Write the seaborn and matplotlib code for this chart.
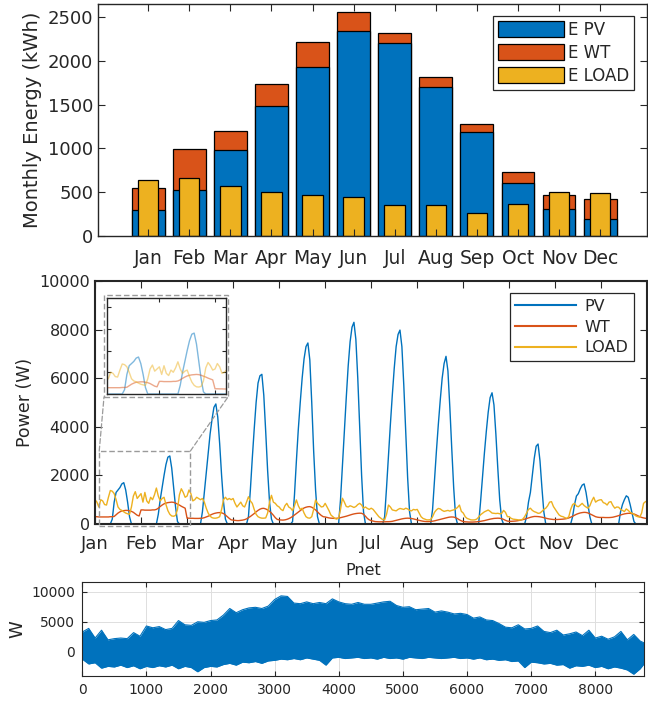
import numpy as np
import pandas as pd
import seaborn as sns
import matplotlib.pyplot as plt
from matplotlib.patches import Patch, Rectangle, ConnectionPatch
from matplotlib.lines import Line2D

# ---- data ----
months = ['Jan', 'Feb', 'Mar', 'Apr', 'May', 'Jun', 'Jul', 'Aug', 'Sep', 'Oct', 'Nov', 'Dec']
e_pv = [292, 520, 982, 1484, 1925, 2347, 2210, 1701, 1187, 608, 304, 197]
e_wt = [251, 469, 217, 247, 290, 210, 107, 110, 98, 118, 164, 229]
e_load = [635, 658, 566, 506, 472, 441, 357, 349, 258, 365, 498, 494]

# average day per month (24 values per month), W
pv_w = [
    0, 0, 0, 0, 0, 0, 0, 0, 0, 200, 900, 1300, 1400, 1500, 1650, 1700, 1400, 900, 300, 0, 0, 0, 0, 0,
    0, 0, 0, 0, 0, 0, 0, 0, 0, 400, 1000, 1500, 2000, 2450, 2750, 2800, 2300, 1500, 700, 100, 0, 0, 0, 0,
    0, 0, 0, 0, 0, 0, 0, 0, 500, 1300, 2100, 2900, 3700, 4300, 4800, 4940, 4400, 3300, 2000, 900, 200, 0, 0, 0,
    0, 0, 0, 0, 0, 0, 0, 0, 300, 1400, 2700, 3900, 5000, 5800, 6100, 6160, 5300, 3800, 2200, 900, 200, 0, 0, 0,
    0, 0, 0, 0, 0, 0, 0, 100, 1200, 2600, 3900, 5000, 6000, 6800, 7300, 7450, 6750, 5000, 3000, 1400, 300, 0, 0, 0,
    0, 0, 0, 0, 0, 0, 0, 0, 1000, 2400, 3800, 5200, 6500, 7500, 8100, 8300, 7600, 6000, 4000, 2000, 500, 0, 0, 0,
    0, 0, 0, 0, 0, 0, 0, 300, 1500, 2800, 4100, 5300, 6400, 7300, 7800, 7980, 7300, 5700, 3800, 1900, 500, 0, 0, 0,
    0, 0, 0, 0, 0, 0, 0, 0, 600, 1800, 3000, 4100, 5100, 6000, 6600, 6900, 6300, 4800, 3100, 1500, 300, 0, 0, 0,
    0, 0, 0, 0, 0, 0, 0, 0, 0, 900, 1900, 2900, 3800, 4600, 5200, 5400, 4900, 3700, 2300, 1000, 200, 0, 0, 0,
    0, 0, 0, 0, 0, 0, 0, 0, 0, 300, 900, 1300, 2000, 2700, 3200, 3290, 2600, 1500, 500, 0, 0, 0, 0, 0,
    0, 0, 0, 0, 0, 0, 0, 0, 0, 300, 800, 1150, 1250, 1450, 1600, 1650, 1300, 800, 300, 0, 0, 0, 0, 0,
    0, 0, 0, 0, 0, 0, 0, 0, 0, 0, 500, 800, 1000, 1160, 1100, 800, 450, 100, 0, 0, 0, 0, 0, 0,
]
wt_w = [
    300, 300, 290, 290, 290, 290, 290, 290, 300, 300, 310, 380, 450, 500, 540, 550, 560, 560, 540, 520, 480, 420, 360, 330,
    580, 580, 570, 570, 570, 570, 580, 580, 600, 650, 720, 780, 830, 860, 880, 890, 900, 890, 860, 820, 780, 730, 690, 650,
    240, 240, 235, 235, 230, 230, 230, 235, 240, 260, 290, 320, 360, 400, 430, 450, 465, 470, 460, 430, 370, 300, 230, 170,
    160, 150, 140, 140, 150, 160, 180, 210, 260, 310, 370, 430, 500, 560, 610, 640, 645, 620, 580, 520, 450, 360, 260, 190,
    170, 165, 160, 170, 190, 220, 260, 310, 370, 430, 490, 550, 610, 660, 690, 710, 715, 690, 640, 580, 500, 420, 350, 300,
    290, 270, 250, 240, 235, 230, 235, 245, 260, 280, 300, 320, 345, 370, 395, 415, 430, 440, 445, 440, 400, 320, 230, 170,
    140, 120, 100, 95, 90, 90, 90, 90, 95, 95, 100, 110, 130, 150, 170, 190, 210, 225, 235, 240, 235, 225, 210, 190,
    170, 150, 130, 115, 105, 100, 100, 105, 115, 130, 150, 170, 190, 210, 230, 250, 270, 285, 290, 285, 260, 220, 170, 130,
    100, 90, 85, 80, 80, 80, 85, 90, 100, 110, 125, 140, 160, 180, 200, 215, 230, 235, 240, 235, 220, 190, 150, 120,
    110, 110, 115, 120, 130, 145, 160, 180, 200, 225, 250, 275, 295, 310, 310, 305, 295, 280, 260, 240, 220, 205, 195, 185,
    185, 185, 190, 195, 200, 210, 225, 250, 280, 320, 360, 400, 430, 455, 470, 480, 475, 455, 420, 380, 340, 300, 280, 270,
    270, 270, 265, 265, 265, 270, 280, 300, 320, 345, 370, 395, 415, 430, 440, 440, 430, 410, 380, 340, 300, 270, 250, 235,
]
load_w = [
    1000, 900, 700, 1000, 950, 800, 780, 1100, 1380, 1350, 1250, 1000, 700, 600, 560, 500, 450, 420, 400, 700, 1150, 1330, 1050, 1150,
    1250, 900, 1300, 950, 850, 1100, 1000, 1200, 1480, 1150, 950, 1050, 1100, 800, 550, 400, 330, 320, 350, 600, 1200, 1450, 1300, 1100,
    1150, 1400, 1250, 950, 1000, 1100, 1050, 1000, 1050, 900, 650, 450, 320, 260, 240, 240, 260, 300, 600, 1000, 1100, 1000, 1050, 1000,
    1050, 850, 700, 800, 900, 750, 700, 900, 1120, 950, 850, 600, 400, 300, 260, 240, 240, 250, 450, 900, 1180, 900, 850, 750,
    700, 600, 550, 750, 850, 700, 650, 550, 750, 990, 750, 600, 650, 450, 300, 250, 240, 300, 600, 990, 850, 780, 700, 720,
    850, 700, 550, 370, 300, 235, 200, 250, 600, 1060, 900, 720, 700, 750, 720, 680, 720, 800, 850, 780, 650, 700, 640, 600,
    650, 600, 500, 400, 300, 240, 180, 170, 400, 780, 700, 580, 560, 540, 600, 640, 620, 600, 650, 620, 560, 540, 600, 580,
    600, 450, 300, 230, 200, 170, 170, 180, 300, 480, 580, 640, 620, 560, 520, 540, 560, 530, 560, 580, 620, 680, 780, 520,
    450, 300, 230, 200, 170, 165, 170, 200, 280, 380, 440, 500, 540, 575, 520, 450, 440, 430, 440, 420, 430, 560, 480, 300,
    300, 230, 200, 190, 180, 165, 165, 200, 300, 450, 600, 650, 560, 510, 480, 440, 450, 520, 600, 650, 750, 900, 920, 720,
    600, 480, 370, 320, 300, 260, 235, 300, 600, 800, 850, 740, 710, 780, 850, 760, 700, 650, 750, 950, 1100, 900, 960, 990,
    1000, 880, 850, 780, 900, 920, 760, 650, 700, 690, 600, 560, 510, 620, 560, 480, 440, 400, 330, 300, 280, 450, 850, 920,
]

# Pnet hourly over the year: upper / lower envelope read every 100 h
pnet_hours = list(range(0, 8701, 100)) + [8760]
pnet_upper = [3300, 3900, 2300, 3600, 2000, 2200, 2300, 2200, 3200, 2600,
              4300, 4000, 4200, 3700, 3900, 5200, 4500, 4400, 5000, 4900,
              5200, 5300, 6100, 7200, 6500, 7000, 7300, 7400, 7200, 7600,
              8700, 9300, 9200, 8100, 8000, 8300, 8000, 8200, 8000, 8800,
              8300, 8000, 7900, 8200, 7900, 7900, 8100, 8300, 8400, 7700,
              7400, 7500, 7000, 7100, 7200, 6600, 6800, 6600, 6300, 6400,
              6200, 5600, 5800, 5300, 5200, 4700, 4100, 4000, 4500, 3800,
              3900, 4300, 3400, 3200, 3600, 2800, 3000, 3300, 2700, 3600,
              2300, 2600, 2100, 2500, 3400, 2000, 2900, 1800, 1500]
pnet_lower = [-1200, -2000, -1800, -2700, -2400, -2500, -2200, -2600, -2300, -2800,
              -2400, -2600, -2300, -2500, -2200, -2800, -2400, -2600, -3300, -2600,
              -2400, -2500, -2100, -1900, -2200, -1700, -1800, -1600, -1900, -1500,
              -1400, -1200, -1300, -1100, -1300, -1000, -1200, -1400, -2200, -1000,
              -900, -1100, -1000, -900, -1100, -1000, -1200, -900, -1100, -1000,
              -1200, -900, -1000, -1100, -900, -1000, -1100, -1000, -900, -1100,
              -1000, -1200, -1000, -1300, -1200, -1400, -1300, -1600, -1500, -2600,
              -1700, -1800, -2000, -1900, -2200, -2100, -2700, -2300, -2400, -2200,
              -2600, -2400, -2800, -2500, -2700, -3000, -3700, -2800, -2000]

c_pv, c_wt, c_load = '#0072BD', '#D95319', '#EDB120'
ink = '#262626'

plt.rcParams.update({
    'font.family': 'DejaVu Sans',
    'xtick.direction': 'in', 'ytick.direction': 'in',
    'xtick.top': True, 'ytick.right': True,
    'xtick.color': ink, 'ytick.color': ink,
    'axes.edgecolor': ink, 'text.color': ink, 'axes.labelcolor': ink,
})

W, H = 648, 701
fig = plt.figure(figsize=(W / 100, H / 100), dpi=100)


def box(l, t, r, b):
    return [l / W, 1 - b / H, (r - l) / W, (b - t) / H]


# ---- top: monthly energy ----
ax1 = fig.add_axes(box(98, 4, 647, 236))
total = [p + w for p, w in zip(e_pv, e_wt)]
kw = dict(edgecolor='black', linewidth=0.9, saturation=1, errorbar=None, ax=ax1)
sns.barplot(x=months, y=total, color=c_wt, width=0.8, **kw)
sns.barplot(x=months, y=e_pv, color=c_pv, width=0.8, **kw)
sns.barplot(x=months, y=e_load, color=c_load, width=0.5, **kw)
ax1.set_xlim(-1.22, 12.14)
ax1.set_ylim(0, 2650)
ax1.set_yticks(range(0, 2501, 500))
ax1.set_xticks(range(12))
ax1.set_xticklabels(months, fontsize=13.5)
ax1.tick_params(axis='y', labelsize=13, length=5)
ax1.tick_params(axis='x', length=5, pad=9)
ax1.set_ylabel('Monthly Energy (kWh)', fontsize=14)
for s in ax1.spines.values():
    s.set_linewidth(1.0)
h1 = [Patch(facecolor=c, edgecolor='black', linewidth=0.9) for c in (c_pv, c_wt, c_load)]
lg1 = ax1.legend(h1, ['E PV', 'E WT', 'E LOAD'], loc='upper right',
                 bbox_to_anchor=(0.976, 0.95), borderaxespad=0, fontsize=12,
                 handlelength=4.0, handleheight=1.05, handletextpad=0.2,
                 labelspacing=0.3, borderpad=0.3, fancybox=False, framealpha=1)
lg1.get_frame().set_edgecolor(ink)
lg1.get_frame().set_linewidth(0.9)

# ---- middle: power profiles ----
ax2 = fig.add_axes(box(95, 281, 647.4, 524))
hours = np.arange(len(pv_w))
df = pd.DataFrame({
    'hour': np.concatenate([hours, hours, hours]),
    'power': pv_w + wt_w + load_w,
    'series': ['PV'] * len(pv_w) + ['WT'] * len(wt_w) + ['LOAD'] * len(load_w),
})
pal = {'PV': c_pv, 'WT': c_wt, 'LOAD': c_load}
sns.lineplot(data=df, x='hour', y='power', hue='series', palette=pal,
             hue_order=['PV', 'WT', 'LOAD'], estimator=None, linewidth=1.0,
             legend=False, ax=ax2)
ax2.lines[0].set_clip_on(False)
ax2.set_xlim(0, 288)
ax2.set_ylim(0, 10000)
ax2.set_xticks(range(0, 288, 24))
ax2.set_xticklabels(months, fontsize=13)
ax2.set_yticks(range(0, 10001, 2000))
ax2.tick_params(axis='y', labelsize=11.5, length=5)
ax2.tick_params(axis='x', length=5, pad=8)
ax2.set_xlabel('')
ax2.set_ylabel('Power (W)', fontsize=12.5)
for s in ax2.spines.values():
    s.set_linewidth(1.5)
h2 = [Line2D([], [], color=c, lw=1.5) for c in (c_pv, c_wt, c_load)]
lg2 = ax2.legend(h2, ['PV', 'WT', 'LOAD'], loc='upper right',
                 bbox_to_anchor=(0.975, 0.949), borderaxespad=0, fontsize=11.5,
                 handlelength=3.8, handletextpad=0.5, labelspacing=0.35,
                 borderpad=0.35, fancybox=False, framealpha=1)
lg2.get_frame().set_edgecolor(ink)
lg2.get_frame().set_linewidth(0.9)

# zoom box and inset
gray = '#9a9a9a'
ax2.add_patch(Rectangle((2.2, -80), 47.5, 3080, fill=False, ec=gray, lw=1.0,
                        ls=(0, (4, 2)), clip_on=False, zorder=5))
fig.add_artist(Rectangle((104 / W, 1 - 397 / H), 124 / W, 102 / H, fill=False,
                         ec=gray, lw=1.0, ls=(0, (4, 2)), transform=fig.transFigure))
for xa, xf in ((2.2, 104), (49.7, 228)):
    fig.add_artist(ConnectionPatch(xyA=(xa, 3000), coordsA=ax2.transData,
                                   xyB=(xf / W, 1 - 397 / H), coordsB=fig.transFigure,
                                   color=gray, lw=0.9, ls=(0, (4, 2))))

ax_in = fig.add_axes(box(106.7, 298.3, 225.7, 394))
sns.lineplot(data=df[df.hour <= 54], x='hour', y='power', hue='series', palette=pal,
             hue_order=['PV', 'WT', 'LOAD'], estimator=None, linewidth=1.0,
             alpha=0.5, legend=False, ax=ax_in)
ax_in.set_xlim(1.3, 52.6)
ax_in.set_ylim(0, 4400)
ax_in.set_xticks([24, 48])
ax_in.set_yticks([1000, 2000, 3000, 4000])
ax_in.tick_params(labelbottom=False, labelleft=False, length=3)
ax_in.set_xlabel('')
ax_in.set_ylabel('')
for s in ax_in.spines.values():
    s.set_linewidth(1.0)

# ---- bottom: Pnet ----
ax3 = fig.add_axes(box(82.3, 582, 644, 676))
env = pd.DataFrame({'hour': pnet_hours, 'upper': pnet_upper, 'lower': pnet_lower})
ax3.fill_between(env['hour'], env['lower'], env['upper'], color=c_pv, lw=0)
sns.lineplot(data=env, x='hour', y='upper', color=c_pv, lw=0.8, ax=ax3)
sns.lineplot(data=env, x='hour', y='lower', color=c_pv, lw=0.8, ax=ax3)
ax3.set_xlim(0, 8760)
ax3.set_ylim(-4000, 11600)
ax3.set_xticks(range(0, 8001, 1000))
ax3.set_yticks([0, 5000, 10000])
ax3.grid(True, color='#dedede', lw=0.7)
ax3.set_axisbelow(True)
ax3.tick_params(labelsize=10, length=3.5, pad=5)
ax3.set_xlabel('')
ax3.set_ylabel('W', fontsize=13)
ax3.set_title('Pnet', fontsize=11.5, pad=5)
for s in ax3.spines.values():
    s.set_linewidth(0.8)

fig.savefig('out.png', dpi=100)
